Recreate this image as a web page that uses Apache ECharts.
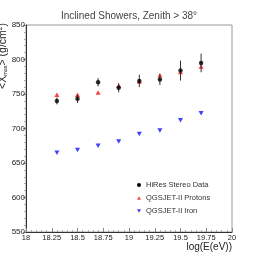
<!DOCTYPE html>
<html><head><meta charset="utf-8">
<script src="https://cdn.jsdelivr.net/npm/echarts@6/dist/echarts.min.js"></script>
<style>html,body{margin:0;padding:0;background:#fff}#c{width:258px;height:258px}</style>
</head><body><div id="c"></div>
<script>
const energies = [18.3, 18.5, 18.7, 18.9, 19.1, 19.3, 19.5, 19.7];
const hiresXmax = [740, 743, 767, 759, 769, 771, 784, 795];
const hiresErr = [5, 6, 6, 6.5, 9, 8, 14.5, 13.5];
const protonXmax = [749, 749, 752, 762, 768, 777, 782, 790];
const ironXmax = [665, 669, 675, 681, 692, 697, 712, 722];
const xTicks = ['18', '18.25', '18.5', '18.75', '19', '19.25', '19.5', '19.75', '20'];
const yTicks = [550, 600, 650, 700, 750, 800, 850];

const downTri = 'path://M0,0 L10,0 L5,9 Z';
const upTri = 'path://M5,0 L10,9 L0,9 Z';
const font = 'Liberation Sans, Arial, sans-serif';

const chart = echarts.init(document.getElementById('c'), null, {renderer: 'canvas'});
chart.setOption({
  animation: false,
  backgroundColor: '#fff',
  title: {
    text: 'Inclined Showers, Zenith > 38°',
    left: 'center', top: 6,
    textStyle: {fontSize: 10, fontWeight: 'normal', color: '#444', fontFamily: font}
  },
  grid: {left: 26, right: 26, top: 25, bottom: 26, show: true, borderColor: '#999', borderWidth: 1},
  legend: {
    orient: 'vertical', left: 137, top: 181, itemWidth: 4, itemHeight: 4, itemGap: 5, padding: 0,
    textStyle: {fontSize: 7.5, color: '#333', fontFamily: font},
    data: [
      {name: 'HiRes Stereo Data', icon: 'circle'},
      {name: 'QGSJET-II Protons', icon: upTri},
      {name: 'QGSJET-II Iron', icon: downTri}
    ]
  },
  graphic: [{
    type: 'text', x: 3, y: 56, rotation: Math.PI / 2,
    style: {
      text: '{a|<X}{s|max}{a|> (g/cm}{p|2}{a|)}', align: 'center', verticalAlign: 'middle',
      rich: {
        a: {fontSize: 10.5, fill: '#222', fontFamily: font},
        s: {fontSize: 5.5, fill: '#222', fontFamily: font, padding: [5, 0, 0, 0]},
        p: {fontSize: 6.5, fill: '#222', fontFamily: font, padding: [0, 0, 5, 0]}
      }
    }
  }],
  xAxis: {
    type: 'value', min: 18, max: 20, interval: 0.25,
    name: 'log(E(eV))', nameLocation: 'end', nameGap: 0,
    nameTextStyle: {fontSize: 10, color: '#222', fontFamily: font, align: 'right', verticalAlign: 'top', padding: [10, 0, 0, 0]},
    axisLine: {lineStyle: {color: '#333'}},
    axisTick: {inside: true, length: 4, lineStyle: {color: '#888'}},
    minorTick: {show: true, splitNumber: 5, length: 2, lineStyle: {color: '#aaa'}},
    splitLine: {show: false},
    axisLabel: {fontSize: 7.5, color: '#222', fontFamily: font, margin: 2,
      formatter: v => xTicks[Math.round((v - 18) / 0.25)] || ''}
  },
  yAxis: {
    type: 'value', min: 550, max: 850, interval: 50,
    axisLine: {show: true, lineStyle: {color: '#333'}},
    axisTick: {show: true, length: 3, lineStyle: {color: '#888'}},
    minorTick: {show: true, splitNumber: 5, length: 2, lineStyle: {color: '#aaa'}},
    splitLine: {show: false},
    axisLabel: {fontSize: 8, color: '#222', fontFamily: font, margin: 1,
      formatter: v => (yTicks.indexOf(v) >= 0 ? String(v) : '')}
  },
  series: [
    {
      name: 'QGSJET-II Iron', type: 'scatter', symbol: downTri, symbolSize: [5, 4.5],
      itemStyle: {color: '#1010ff'},
      data: energies.map((e, i) => [e, ironXmax[i]])
    },
    {
      name: 'QGSJET-II Protons', type: 'scatter', symbol: upTri, symbolSize: [5, 4.5],
      itemStyle: {color: '#ff1010'},
      data: energies.map((e, i) => [e, protonXmax[i]])
    },
    {
      name: 'HiRes Stereo Data', type: 'custom',
      itemStyle: {color: '#000'},
      renderItem: (params, api) => {
        const x = api.value(0), y = api.value(1), err = api.value(2);
        const top = api.coord([x, y + err]);
        const bot = api.coord([x, y - err]);
        return {type: 'line', shape: {x1: top[0], y1: top[1], x2: bot[0], y2: bot[1]},
          style: {stroke: '#333', lineWidth: 1}};
      },
      data: energies.map((e, i) => [e, hiresXmax[i], hiresErr[i]]),
      z: 3
    },
    {
      name: 'HiRes Stereo Data', type: 'scatter', symbol: 'circle', symbolSize: 4.5,
      itemStyle: {color: '#000'},
      data: energies.map((e, i) => [e, hiresXmax[i]]),
      z: 4
    }
  ]
});
</script></body></html>
